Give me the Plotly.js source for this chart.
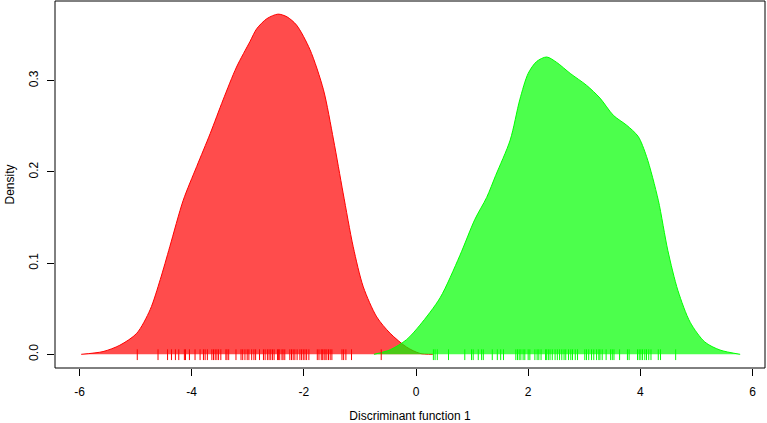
<!DOCTYPE html>
<html>
<head>
<meta charset="utf-8">
<script src="https://cdn.plot.ly/plotly-3.0.1.min.js"></script>
<style>html,body{margin:0;padding:0;background:#fff;}#chart{width:767px;height:423px;}</style>
</head>
<body>
<div id="chart"></div>
<script>
// Density curve of group 1 (red)
const redX = [-5.97, -5.58, -5.28, -4.98, -4.74, -4.56, -4.39, -4.15, -3.91, -3.67, -3.44, -3.20, -2.96, -2.84, -2.66, -2.46, -2.30, -2.13, -1.89, -1.65, -1.47, -1.30, -1.12, -0.94, -0.70, -0.46, -0.17, 0.07, 0.30];
const redY = [0.0, 0.003, 0.010, 0.023, 0.049, 0.082, 0.118, 0.169, 0.206, 0.242, 0.279, 0.315, 0.343, 0.357, 0.368, 0.373, 0.370, 0.361, 0.334, 0.290, 0.235, 0.177, 0.118, 0.074, 0.041, 0.023, 0.008, 0.001, 0.0];
// Density curve of group 2 (green)
const greenX = [-0.75, -0.46, -0.17, 0.07, 0.43, 0.78, 1.05, 1.26, 1.42, 1.68, 1.85, 2.00, 2.15, 2.33, 2.51, 2.75, 3.04, 3.28, 3.52, 3.76, 3.96, 4.11, 4.32, 4.49, 4.67, 4.89, 5.15, 5.42, 5.78];
const greenY = [0.0, 0.005, 0.016, 0.032, 0.062, 0.108, 0.148, 0.172, 0.196, 0.235, 0.279, 0.308, 0.321, 0.326, 0.320, 0.308, 0.295, 0.281, 0.262, 0.251, 0.239, 0.217, 0.169, 0.114, 0.070, 0.035, 0.0135, 0.0047, 0.0];
// Rug observations
const redRug = [-4.97, -4.60, -4.43, -4.36, -4.29, -4.23, -4.13, -4.11, -4.04, -3.94, -3.85, -3.79, -3.76, -3.72, -3.64, -3.61, -3.58, -3.55, -3.52, -3.48, -3.39, -3.37, -3.34, -3.21,
  -3.12, -3.09, -3.05, -3.01, -2.98, -2.93, -2.89, -2.86, -2.79, -2.72, -2.69, -2.65, -2.62, -2.59, -2.56, -2.53, -2.47, -2.45, -2.43, -2.39, -2.37, -2.34, -2.25, -2.22, -2.19, -2.16, -2.12, -2.07, -2.04, -2.01, -1.98, -1.95, -1.91, -1.76, -1.73, -1.69, -1.67, -1.64, -1.62, -1.59, -1.56, -1.53, -1.50, -1.32, -1.29, -1.25, -1.15, -0.62];
const greenRug = [0.31, 0.34, 0.38, 0.58, 0.87, 0.99, 1.02, 1.11, 1.17, 1.20, 1.36, 1.45, 1.51, 1.56, 1.78, 1.81, 1.84, 1.87, 1.91, 1.94, 2.00, 2.03, 2.12, 2.16, 2.19, 2.23, 2.31, 2.33, 2.36, 2.39, 2.43, 2.48, 2.52, 2.56, 2.60, 2.64, 2.67, 2.72,
  2.76, 2.79, 2.84, 2.88, 3.01, 3.04, 3.08, 3.13, 3.17, 3.22, 3.26, 3.28, 3.32, 3.39, 3.47, 3.50, 3.53, 3.63, 3.77, 3.80, 3.95, 3.98, 4.01, 4.04, 4.08, 4.11, 4.15, 4.19, 4.32, 4.36, 4.63];
const xTicks = [-6, -4, -2, 0, 2, 4, 6];
const xTickLabels = ["-6", "-4", "-2", "0", "2", "4", "6"];
const yTicks = [0, 0.1, 0.2, 0.3];
const yTickLabels = ["0.0", "0.1", "0.2", "0.3"];

const RUG_TOP = 0.0055, RUG_BOT = -0.0063;
function rug(vals) {
  const xs = [], ys = [];
  vals.forEach(v => { xs.push(v, v, null); ys.push(RUG_BOT, RUG_TOP, null); });
  return {xs, ys};
}
const rr = rug(redRug), gr = rug(greenRug);
const FONT = "Liberation Sans, Arial, Helvetica, sans-serif";

const traces = [
  {x: redX, y: redY, type: 'scatter', mode: 'lines', fill: 'toself',
   fillcolor: 'rgba(255,0,0,0.7)', line: {color: 'rgb(255,0,0)', width: 1, shape: 'spline', smoothing: 0.8}, hoverinfo: 'skip'},
  {x: greenX, y: greenY, type: 'scatter', mode: 'lines', fill: 'toself',
   fillcolor: 'rgba(0,255,0,0.7)', line: {color: 'rgb(0,255,0)', width: 1, shape: 'spline', smoothing: 0.8}, hoverinfo: 'skip'},
  {x: rr.xs, y: rr.ys, type: 'scatter', mode: 'lines', line: {color: 'rgb(255,0,0)', width: 1}, hoverinfo: 'skip'},
  {x: gr.xs, y: gr.ys, type: 'scatter', mode: 'lines', line: {color: 'rgb(0,255,0)', width: 1}, hoverinfo: 'skip'}
];

const layout = {
  width: 767, height: 423,
  margin: {l: 55, r: 2, t: 1, b: 55},
  paper_bgcolor: '#fff', plot_bgcolor: '#fff',
  showlegend: false,
  font: {family: FONT, size: 12, color: '#000'},
  xaxis: {
    range: [-6.437, 6.223], showgrid: false, zeroline: false, showline: false,
    tickmode: 'array', tickvals: xTicks, ticktext: xTickLabels,
    ticks: 'outside', ticklen: 7, tickcolor: '#000', tickwidth: 1, ticklabelstandoff: 6,
    tickfont: {family: FONT, size: 12, color: '#000'},
    title: {text: 'Discriminant function 1', font: {family: FONT, size: 12, color: '#000'}, standoff: 14}
  },
  yaxis: {
    range: [-0.0150, 0.3874], showgrid: false, zeroline: false, showline: false,
    tickmode: 'array', tickvals: yTicks, ticktext: yTickLabels, tickangle: -90,
    ticks: 'outside', ticklen: 7, tickcolor: '#000', tickwidth: 1, ticklabelstandoff: 4,
    tickfont: {family: FONT, size: 12, color: '#000'},
    title: {text: 'Density', font: {family: FONT, size: 12, color: '#000'}, standoff: 10}
  },
  shapes: [{type: 'rect', xref: 'paper', yref: 'paper', x0: 0, x1: 1, y0: 0, y1: 1,
            line: {color: '#000', width: 1}, layer: 'above'}]
};
Plotly.newPlot('chart', traces, layout, {displayModeBar: false, staticPlot: true});
</script>
</body>
</html>
